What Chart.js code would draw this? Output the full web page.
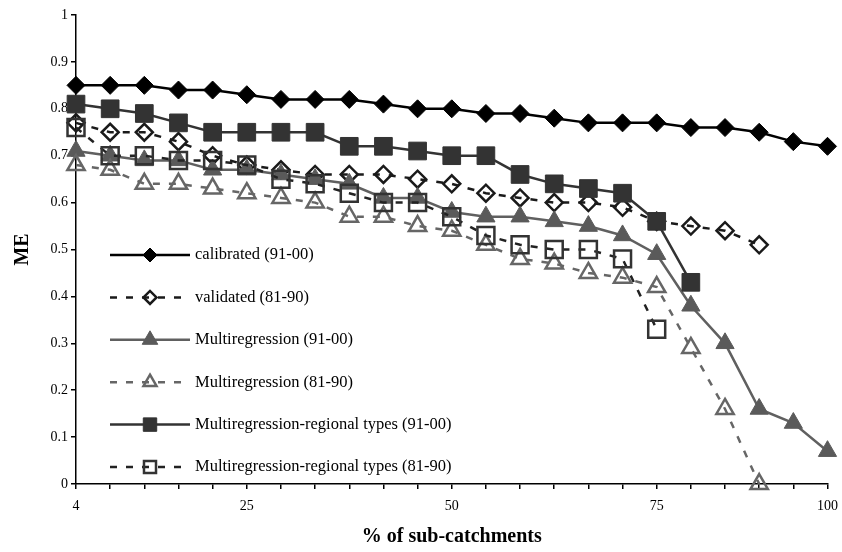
<!DOCTYPE html>
<html>
<head>
<meta charset="utf-8">
<script src="https://cdn.jsdelivr.net/npm/chart.js@4.4.0/dist/chart.umd.min.js"></script>
<style>
html,body{margin:0;padding:0;background:#ffffff;}
#wrap{width:842px;height:552px;position:relative;}
</style>
</head>
<body>
<div id="wrap"><canvas id="c" width="842" height="552"></canvas></div>
<script>
// Category tick labels (% of sub-catchments); unlabeled categories are blank
const xLabels = ['4','','','','','25','','','','','','50','','','','','','75','','','','','100'];
// Y tick labels, bottom to top
const yTickLabels = ['0','0.1','0.2','0.3','0.4','0.5','0.6','0.7','0.8','0.9','1'];

const seriesNames = [
  'calibrated (91-00)',
  'validated (81-90)',
  'Multiregression (91-00)',
  'Multiregression (81-90)',
  'Multiregression-regional types (91-00)',
  'Multiregression-regional types (81-90)'
];

const calibrated9100 = [0.85,0.85,0.85,0.84,0.84,0.83,0.82,0.82,0.82,0.81,0.80,0.80,0.79,0.79,0.78,0.77,0.77,0.77,0.76,0.76,0.75,0.73,0.72];
const validated8190  = [0.77,0.75,0.75,0.73,0.70,0.68,0.67,0.66,0.66,0.66,0.65,0.64,0.62,0.61,0.60,0.60,0.59,0.56,0.55,0.54,0.51,null,null];
const multireg9100   = [0.71,0.70,0.69,0.69,0.67,0.67,0.66,0.65,0.64,0.61,0.61,0.58,0.57,0.57,0.56,0.55,0.53,0.49,0.38,0.30,0.16,0.13,0.07];
const multireg8190   = [0.68,0.67,0.64,0.64,0.63,0.62,0.61,0.60,0.57,0.57,0.55,0.54,0.51,0.48,0.47,0.45,0.44,0.42,0.29,0.16,0.00,null,null];
const regional9100   = [0.81,0.80,0.79,0.77,0.75,0.75,0.75,0.75,0.72,0.72,0.71,0.70,0.70,0.66,0.64,0.63,0.62,0.56,0.43,null,null,null,null];
const regional8190   = [0.76,0.70,0.70,0.69,0.69,0.68,0.65,0.64,0.62,0.60,0.60,0.57,0.53,0.51,0.50,0.50,0.48,0.33,null,null,null,null,null];

const seriesData = [calibrated9100, validated8190, multireg9100, multireg8190, regional9100, regional8190];

const styles = [
  {line:'#000000', dash:[],    pstyle:'rectRot',  r:9,  fill:'#000000',     pborder:'#000000', pbw:1,   lr:7},
  {line:'#1a1a1a', dash:[7,9], pstyle:'rectRot',  r:8.5,fill:'transparent', pborder:'#1a1a1a', pbw:2.5, lr:6.5},
  {line:'#606060', dash:[],    pstyle:'triangle', r:10.5,fill:'#5a5a5a',    pborder:'#5a5a5a', pbw:1,   lr:9},
  {line:'#666666', dash:[7,9], pstyle:'triangle', r:10, fill:'transparent', pborder:'#666666', pbw:2.5, lr:7.5},
  {line:'#333333', dash:[],    pstyle:'rect',     r:12.5,fill:'#333333',    pborder:'#333333', pbw:1,   lr:9.5},
  {line:'#222222', dash:[7,9], pstyle:'rect',     r:12, fill:'transparent', pborder:'#333333', pbw:2.5, lr:8.5}
];

const N = seriesData.length;
const datasets = seriesData.map((d, i) => ({
  label: seriesNames[i],
  data: d,
  borderColor: styles[i].line,
  backgroundColor: styles[i].fill,
  borderWidth: 2.5,
  borderDash: styles[i].dash,
  pointStyle: styles[i].pstyle,
  pointRadius: styles[i].r,
  pointHoverRadius: styles[i].r,
  pointBackgroundColor: styles[i].fill,
  pointBorderColor: styles[i].pborder,
  pointBorderWidth: styles[i].pbw,
  legendRadius: styles[i].lr,
  tension: 0,
  fill: false,
  spanGaps: false,
  clip: false,
  order: N - 1 - i
}));

const FONT = '"Liberation Serif", "Times New Roman", serif';

const excelLegend = {
  id: 'excelLegend',
  afterDraw(chart) {
    const ctx = chart.ctx;
    const area = chart.chartArea;
    const x0 = area.left + 34, x1 = area.left + 114, mx = (x0 + x1) / 2, tx = x1 + 5;
    chart.data.datasets.forEach((ds, i) => {
      const y = area.top + 240 + i * 42.4;
      ctx.save();
      ctx.strokeStyle = ds.borderColor;
      ctx.lineWidth = ds.borderWidth;
      ctx.setLineDash(ds.borderDash || []);
      ctx.beginPath();
      ctx.moveTo(x0, y);
      ctx.lineTo(x1, y);
      ctx.stroke();
      ctx.setLineDash([]);
      ctx.fillStyle = ds.pointBackgroundColor;
      ctx.strokeStyle = ds.pointBorderColor;
      ctx.lineWidth = ds.pointBorderWidth;
      Chart.helpers.drawPoint(ctx, {pointStyle: ds.pointStyle, radius: ds.legendRadius, borderWidth: ds.pointBorderWidth, rotation: 0}, mx, y);
      ctx.fillStyle = '#000000';
      ctx.font = '16.5px ' + FONT;
      ctx.textBaseline = 'middle';
      ctx.textAlign = 'left';
      ctx.fillText(ds.label, tx, y);
      ctx.restore();
    });
  }
};

new Chart(document.getElementById('c'), {
  type: 'line',
  data: { labels: xLabels, datasets: datasets },
  plugins: [excelLegend],
  options: {
    responsive: false,
    devicePixelRatio: 1,
    animation: false,
    layout: { padding: { top: 15, right: 12, left: 0, bottom: 0 } },
    plugins: { legend: { display: false }, tooltip: { enabled: false } },
    scales: {
      x: {
        type: 'category',
        offset: false,
        grid: { display: true, drawOnChartArea: false, drawTicks: true, tickLength: 5, color: '#000000', lineWidth: 1.5 },
        border: { display: true, color: '#000000', width: 1.5 },
        ticks: { autoSkip: false, maxRotation: 0, minRotation: 0, padding: 9, color: '#000000', font: { family: FONT, size: 14 } },
        title: { display: true, text: '% of sub-catchments', color: '#000000', font: { family: FONT, size: 20, weight: 'bold' }, padding: { top: 0, bottom: 3 } },
        afterFit(s) { s.height = 68; s.paddingLeft = 0; s.paddingRight = 0; }
      },
      y: {
        min: 0, max: 1,
        grid: { display: true, drawOnChartArea: false, drawTicks: true, tickLength: 5, color: '#000000', lineWidth: 1.5 },
        border: { display: true, color: '#000000', width: 1.5 },
        ticks: { stepSize: 0.1, padding: 3, color: '#000000', font: { family: FONT, size: 14 },
          callback: (v, idx) => yTickLabels[idx] },
        title: { display: true, text: 'ME', color: '#000000', font: { family: FONT, size: 20, weight: 'bold' }, padding: { top: 11, bottom: 0 } },
        afterFit(s) { s.width = 76; s.paddingTop = 0; s.paddingBottom = 0; }
      }
    }
  }
});
</script>
</body>
</html>
